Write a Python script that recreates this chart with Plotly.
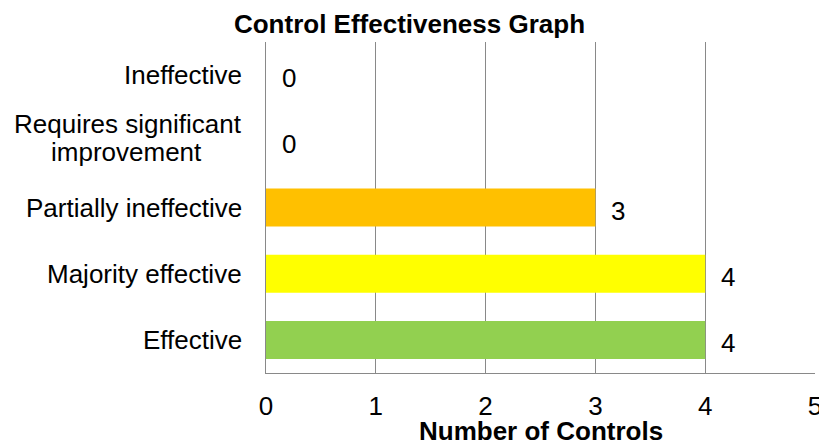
import plotly.graph_objects as go

# Control effectiveness categories (bottom to top) and their counts
categories = [
    "Effective",
    "Majority effective",
    "Partially ineffective",
    "Requires significant<br>improvement",
    "Ineffective",
]
counts = [4, 4, 3, 0, 0]
bar_colors = ["#92D050", "#FFFF00", "#FFC000", "#FFC000", "#FFC000"]
x_ticks = [0, 1, 2, 3, 4, 5]

FONT = "Liberation Sans, Arial, sans-serif"
GRID = "#898989"
TXT = dict(family=FONT, size=26, color="#000000")

fig = go.Figure(
    go.Bar(
        x=counts,
        y=categories,
        orientation="h",
        marker=dict(color=bar_colors, line=dict(width=0)),
        width=0.574,
        hoverinfo="skip",
    )
)

# category labels left of the axis; wrapped labels use a tight line gap
# and each continuation line is centred under the first line
LINE_GAP = 28
for cat in categories:
    lines = cat.split("<br>")
    n = len(lines)
    for i, line in enumerate(lines):
        fig.add_annotation(
            x=0, y=cat, xref="paper", yref="y",
            text=line, showarrow=False,
            xanchor="right", yanchor="middle",
            xshift=-22 if i == 0 else -62,
            yshift=((n - 1) / 2 - i) * LINE_GAP + (3 if n > 1 else 0),
            font=TXT,
        )

# value labels to the right of each bar
for cat, val in zip(categories, counts):
    fig.add_annotation(
        x=val, y=cat, xref="x", yref="y",
        text=str(val), showarrow=False,
        xanchor="left", yanchor="middle", xshift=14, yshift=-3,
        font=TXT,
    )

# x-axis title
fig.add_annotation(
    x=0.5, y=-(430.5 - 373) / 331, xref="paper", yref="paper",
    text="<b>Number of Controls</b>", showarrow=False,
    xanchor="center", yanchor="middle",
    font=TXT,
)

fig.update_layout(
    width=819,
    height=443,
    margin=dict(l=266, r=4, t=42, b=70, autoexpand=False),
    paper_bgcolor="white",
    plot_bgcolor="white",
    showlegend=False,
    title=dict(
        text="<b>Control Effectiveness Graph</b>",
        x=0.5, xref="container", xanchor="center",
        y=1 - 24 / 443, yref="container", yanchor="middle",
        font=TXT,
    ),
    xaxis=dict(
        range=[0, 5],
        tickvals=x_ticks,
        ticktext=[str(t) for t in x_ticks],
        showgrid=True, gridcolor=GRID, gridwidth=1,
        showline=True, linecolor=GRID, linewidth=1,
        zeroline=False, ticks="",
        ticklabelstandoff=10,
        ticklabeloverflow="allow",
        automargin=False,
        tickfont=TXT,
        fixedrange=True,
    ),
    yaxis=dict(
        categoryorder="array", categoryarray=categories,
        showgrid=False, showline=True, linecolor=GRID, linewidth=1,
        zeroline=False, ticks="",
        showticklabels=False,
        automargin=False,
        fixedrange=True,
    ),
)

fig.write_html("out.html")
